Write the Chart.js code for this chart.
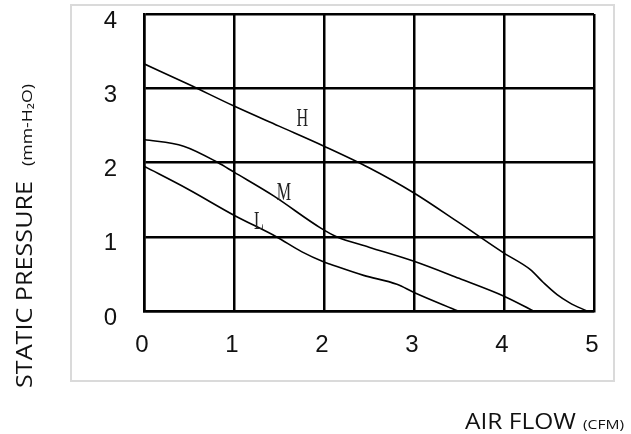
<!DOCTYPE html>
<html>
<head>
<meta charset="utf-8">
<script src="https://cdn.jsdelivr.net/npm/chart.js@4/dist/chart.umd.min.js"></script>
<style>
  html, body { margin: 0; padding: 0; background: #ffffff; }
  #wrap { width: 631px; height: 434px; position: relative; }
</style>
</head>
<body>
<div id="wrap"><canvas id="c" width="631" height="434"></canvas></div>
<script>
// ---- data ----
const xTicks = [0, 1, 2, 3, 4, 5];
const yTicks = [0, 1, 2, 3, 4];

const hFlow = [0, 0.5, 1, 1.5, 2, 2.5, 3, 3.5, 4, 4.29, 4.44, 4.59, 4.73, 4.92];
const hPres = [3.33, 3.05, 2.76, 2.49, 2.22, 1.93, 1.59, 1.19, 0.78, 0.56, 0.38, 0.22, 0.11, 0];

const mFlow = [0, 0.44, 0.82, 1, 1.44, 1.96, 2.14, 2.5, 3, 3.5, 4, 4.33];
const mPres = [2.31, 2.22, 2.0, 1.87, 1.55, 1.12, 1.0, 0.86, 0.67, 0.44, 0.2, 0];

const lFlow = [0, 0.49, 1, 1.47, 1.75, 2, 2.07, 2.44, 2.81, 3, 3.49];
const lPres = [1.95, 1.64, 1.29, 1.0, 0.8, 0.66, 0.63, 0.48, 0.36, 0.25, 0];

const curveNames = ['H', 'M', 'L'];
const labelX = [1.76, 1.556, 1.278];
const labelY = [2.6, 1.605, 1.207];

const yTitleMain = 'STATIC PRESSURE';
const yTitleUnit = '(mm-H\u2082O)';
const xTitleMain = 'AIR FLOW';
const xTitleUnit = '(CFM)';

function pts(xs, ys) { return xs.map((x, i) => ({ x: x, y: ys[i] })); }

const lineStyle = {
  showLine: true,
  borderColor: '#000000',
  borderWidth: 1.6,
  pointRadius: 0,
  cubicInterpolationMode: 'monotone',
  fill: false
};

const decor = {
  id: 'decor',
  beforeDraw(chart) {
    const ctx = chart.ctx;
    ctx.save();
    ctx.fillStyle = '#ffffff';
    ctx.fillRect(0, 0, chart.width, chart.height);
    ctx.strokeStyle = '#dadada';
    ctx.lineWidth = 2;
    ctx.strokeRect(71, 5, 543, 376);
    ctx.restore();
  },
  afterDraw(chart) {
    const ctx = chart.ctx;
    const xs = chart.scales.x, ys = chart.scales.y;
    ctx.save();
    // curve labels (serif, condensed)
    ctx.fillStyle = '#222222';
    ctx.font = '26px "Liberation Serif"';
    ctx.textAlign = 'center';
    ctx.textBaseline = 'middle';
    curveNames.forEach((n, i) => {
      const px = xs.getPixelForValue(labelX[i]);
      const py = ys.getPixelForValue(labelY[i]);
      ctx.save();
      ctx.translate(px, py);
      ctx.scale(0.62, 1);
      ctx.fillText(n, 0, 1);
      ctx.restore();
    });

    // y axis title (rotated)
    ctx.fillStyle = '#111111';
    ctx.save();
    ctx.translate(32, 388);
    ctx.rotate(-Math.PI / 2);
    ctx.textAlign = 'left';
    ctx.textBaseline = 'alphabetic';
    ctx.font = '22px "Open Sans"';
    let w = ctx.measureText(yTitleMain).width;
    ctx.save();
    ctx.scale(207 / w, 1);
    ctx.fillText(yTitleMain, 0, 0);
    ctx.restore();
    ctx.font = '15px "Open Sans"';
    let w2 = ctx.measureText(yTitleUnit).width;
    ctx.save();
    ctx.translate(222, 0);
    ctx.scale(82 / w2, 1);
    ctx.fillText(yTitleUnit, 0, 0);
    ctx.restore();
    ctx.restore();

    // x axis title
    ctx.textAlign = 'left';
    ctx.textBaseline = 'alphabetic';
    ctx.font = '22px "Open Sans"';
    let w3 = ctx.measureText(xTitleMain).width;
    ctx.save();
    ctx.translate(465, 429);
    ctx.scale(111 / w3, 1);
    ctx.fillText(xTitleMain, 0, 0);
    ctx.restore();
    ctx.font = '12px "Open Sans"';
    let w4 = ctx.measureText(xTitleUnit).width;
    ctx.save();
    ctx.translate(583, 429);
    ctx.scale(41 / w4, 1);
    ctx.fillText(xTitleUnit, 0, 0);
    ctx.restore();
    ctx.restore();
  }
};

new Chart(document.getElementById('c'), {
  type: 'scatter',
  data: {
    datasets: [
      Object.assign({ label: 'H', data: pts(hFlow, hPres) }, lineStyle),
      Object.assign({ label: 'M', data: pts(mFlow, mPres) }, lineStyle),
      Object.assign({ label: 'L', data: pts(lFlow, lPres) }, lineStyle)
    ]
  },
  options: {
    responsive: false,
    animation: false,
    layout: { padding: { left: 0, right: 37, top: 14, bottom: 0 } },
    plugins: { legend: { display: false }, tooltip: { enabled: false } },
    scales: {
      x: {
        type: 'linear',
        min: 0, max: 5,
        afterFit(s) { s.height = 123; s.paddingLeft = 0; s.paddingRight = 0; },
        afterBuildTicks(s) { s.ticks = xTicks.map(v => ({ value: v })); },
        grid: { color: '#000000', lineWidth: 2.5, drawTicks: false },
        border: { color: '#000000', width: 2.5 },
        ticks: {
          color: '#111111',
          font: { family: '"Liberation Sans", Arial, sans-serif', size: 24 },
          padding: 20,
          labelOffset: -2
        }
      },
      y: {
        type: 'linear',
        min: 0, max: 4,
        afterFit(s) { s.width = 144; s.paddingTop = 0; s.paddingBottom = 0; },
        afterBuildTicks(s) { s.ticks = yTicks.map(v => ({ value: v })); },
        grid: { color: '#000000', lineWidth: 2.5, drawTicks: false },
        border: { color: '#000000', width: 2.5 },
        ticks: {
          color: '#111111',
          font: { family: '"Liberation Sans", Arial, sans-serif', size: 24 },
          padding: 27,
          labelOffset: 7
        }
      }
    }
  },
  plugins: [decor]
});
</script>
</body>
</html>
